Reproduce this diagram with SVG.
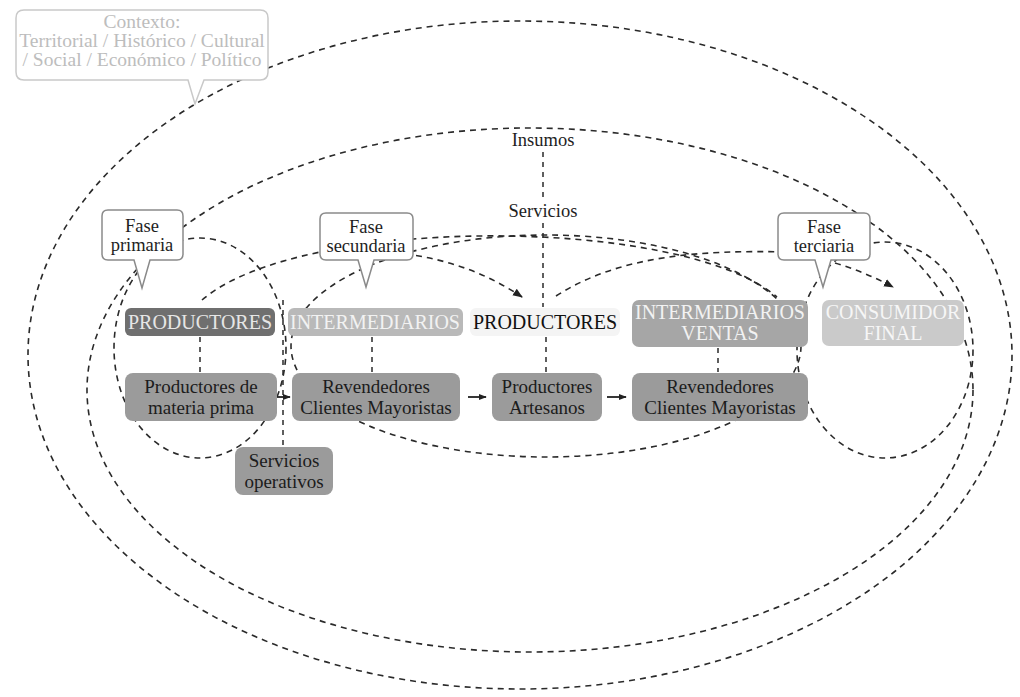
<svg xmlns="http://www.w3.org/2000/svg" width="1020" height="697" viewBox="0 0 1020 697">
<defs>
<marker id="ah" viewBox="0 0 10 10" refX="9" refY="5" markerWidth="8" markerHeight="8" orient="auto" markerUnits="userSpaceOnUse">
<path d="M0,1 L10,5 L0,9 Z" fill="#222"/>
</marker>
<marker id="ah2" viewBox="0 0 10 10" refX="9" refY="5" markerWidth="10" markerHeight="10" orient="auto" markerUnits="userSpaceOnUse">
<path d="M0,1 L10,5 L0,9 Z" fill="#222"/>
</marker>
<style>
.loop{fill:none;stroke:#2a2a2a;stroke-width:1.6;stroke-dasharray:6 5}
.vd{fill:none;stroke:#2a2a2a;stroke-width:1.5;stroke-dasharray:5 5}
.fl{fill:none;stroke:#222;stroke-width:1.8}
.bub{fill:#fff;stroke:#8a8a8a;stroke-width:1.5}
.ctx{fill:#fff;stroke:#c9c9c9;stroke-width:1.5}
.bt{font-size:18.5px;fill:#1e1e1e}
.ct{font-size:19.5px;fill:#bdbdbd}
.cap{font-size:20px}
.rt{font-size:19px;fill:#1c1c1c}
.row{fill:#9b9b9b}
</style>
</defs>
<rect width="1020" height="697" fill="#fff"/>

<g id="connectors">
<ellipse class="loop" cx="520" cy="355" rx="492" ry="334"/>
<ellipse class="loop" cx="530" cy="390" rx="443" ry="262"/>
<ellipse class="loop" cx="200" cy="348" rx="86" ry="110"/>
<ellipse class="loop" cx="546" cy="346" rx="255" ry="111"/>
<ellipse class="loop" cx="885" cy="350" rx="88" ry="108"/>
<path class="loop" d="M202,300 C300,215 680,215 777,297"/>
<path class="loop" d="M556,296 C620,255 700,250 790,252"/>
<path class="loop" d="M405,254 Q470,262 522,297" marker-end="url(#ah2)"/>
<path class="loop" d="M835,263 Q865,272 893,287" marker-end="url(#ah2)"/>
<line class="vd" x1="200" y1="337" x2="200" y2="372"/>
<line class="vd" x1="372" y1="337" x2="372" y2="372"/>
<line class="vd" x1="546" y1="337" x2="546" y2="372"/>
<line class="vd" x1="718" y1="348" x2="718" y2="372"/>
<line class="vd" x1="543" y1="152" x2="543" y2="199"/>
<line class="vd" x1="543" y1="223" x2="543" y2="307"/>
<line class="vd" x1="283" y1="300" x2="283" y2="446"/>
<line class="fl" x1="277" y1="397" x2="290" y2="397" marker-end="url(#ah)"/>
<line class="fl" x1="468" y1="397" x2="486" y2="397" marker-end="url(#ah)"/>
<line class="fl" x1="607" y1="397" x2="626" y2="397" marker-end="url(#ah)"/>
</g>

<g font-family="'Liberation Serif', 'DejaVu Serif', 'Times New Roman', serif" text-anchor="middle">
<g id="contexto">
<path class="ctx" d="M24,10 H260 Q268,10 268,18 V72 Q268,80 260,80 H204 L195,104 L188,80 H24 Q16,80 16,72 V18 Q16,10 24,10 Z"/>
<text class="ct" x="142" y="28">Contexto:</text>
<text class="ct" x="142" y="47">Territorial / Histórico / Cultural</text>
<text class="ct" x="142" y="66">/ Social / Económico / Político</text>
</g>

<g id="fase-primaria">
<path class="bub" d="M108,210 H177 Q183,210 183,216 V254 Q183,260 177,260 H150 L142,288 L134,260 H108 Q102,260 102,254 V216 Q102,210 108,210 Z"/>
<text class="bt" x="142" y="232">Fase</text>
<text class="bt" x="142" y="251">primaria</text>
</g>

<g id="fase-secundaria">
<path class="bub" d="M326,213 H407 Q413,213 413,219 V254 Q413,260 407,260 H374 L366,287 L358,260 H326 Q320,260 320,254 V219 Q320,213 326,213 Z"/>
<text class="bt" x="366" y="233">Fase</text>
<text class="bt" x="366" y="252">secundaria</text>
</g>

<g id="fase-terciaria">
<path class="bub" d="M784,213 H864 Q870,213 870,219 V254 Q870,260 864,260 H831 L823,287 L815,260 H784 Q778,260 778,254 V219 Q778,213 784,213 Z"/>
<text class="bt" x="824" y="233">Fase</text>
<text class="bt" x="824" y="252">terciaria</text>
</g>

<g id="insumos">
<text class="bt" x="543" y="146">Insumos</text>
</g>
<g id="servicios">
<text class="bt" x="543" y="217">Servicios</text>
</g>

<g id="productores-1">
<rect x="125" y="308" width="150" height="28" rx="6" fill="#6f6f6f"/>
<text class="cap" x="200" y="329" fill="#e6e6e6">PRODUCTORES</text>
</g>
<g id="intermediarios-1">
<rect x="288" y="308" width="175" height="28" rx="6" fill="#b9b9b9"/>
<text class="cap" x="375" y="329" fill="#f2f2f2">INTERMEDIARIOS</text>
</g>
<g id="productores-2">
<rect x="470" y="308" width="150" height="28" rx="6" fill="#f4f4f4"/>
<text class="cap" x="545" y="329" fill="#111">PRODUCTORES</text>
</g>
<g id="intermediarios-ventas">
<rect x="632" y="300" width="176" height="47" rx="7" fill="#a6a6a6"/>
<text class="cap" x="720" y="319" fill="#f2f2f2">INTERMEDIARIOS</text>
<text class="cap" x="720" y="340" fill="#f2f2f2">VENTAS</text>
</g>
<g id="consumidor-final">
<rect x="822" y="300" width="142" height="46" rx="7" fill="#cacaca"/>
<text class="cap" x="893" y="319" fill="#f6f6f6">CONSUMIDOR</text>
<text class="cap" x="893" y="340" fill="#f6f6f6">FINAL</text>
</g>

<g id="materia-prima">
<rect class="row" x="125" y="373" width="152" height="48" rx="8"/>
<text class="rt" x="201" y="393">Productores de</text>
<text class="rt" x="201" y="414">materia prima</text>
</g>
<g id="revendedores-1">
<rect class="row" x="292" y="373" width="168" height="48" rx="8"/>
<text class="rt" x="376" y="393">Revendedores</text>
<text class="rt" x="376" y="414">Clientes Mayoristas</text>
</g>
<g id="artesanos">
<rect class="row" x="492" y="373" width="110" height="48" rx="8"/>
<text class="rt" x="547" y="393">Productores</text>
<text class="rt" x="547" y="414">Artesanos</text>
</g>
<g id="revendedores-2">
<rect class="row" x="632" y="373" width="176" height="48" rx="8"/>
<text class="rt" x="720" y="393">Revendedores</text>
<text class="rt" x="720" y="414">Clientes Mayoristas</text>
</g>
<g id="servicios-operativos">
<rect class="row" x="235" y="447" width="98" height="48" rx="8"/>
<text class="rt" x="284" y="467">Servicios</text>
<text class="rt" x="284" y="488">operativos</text>
</g>
</g>
</svg>
